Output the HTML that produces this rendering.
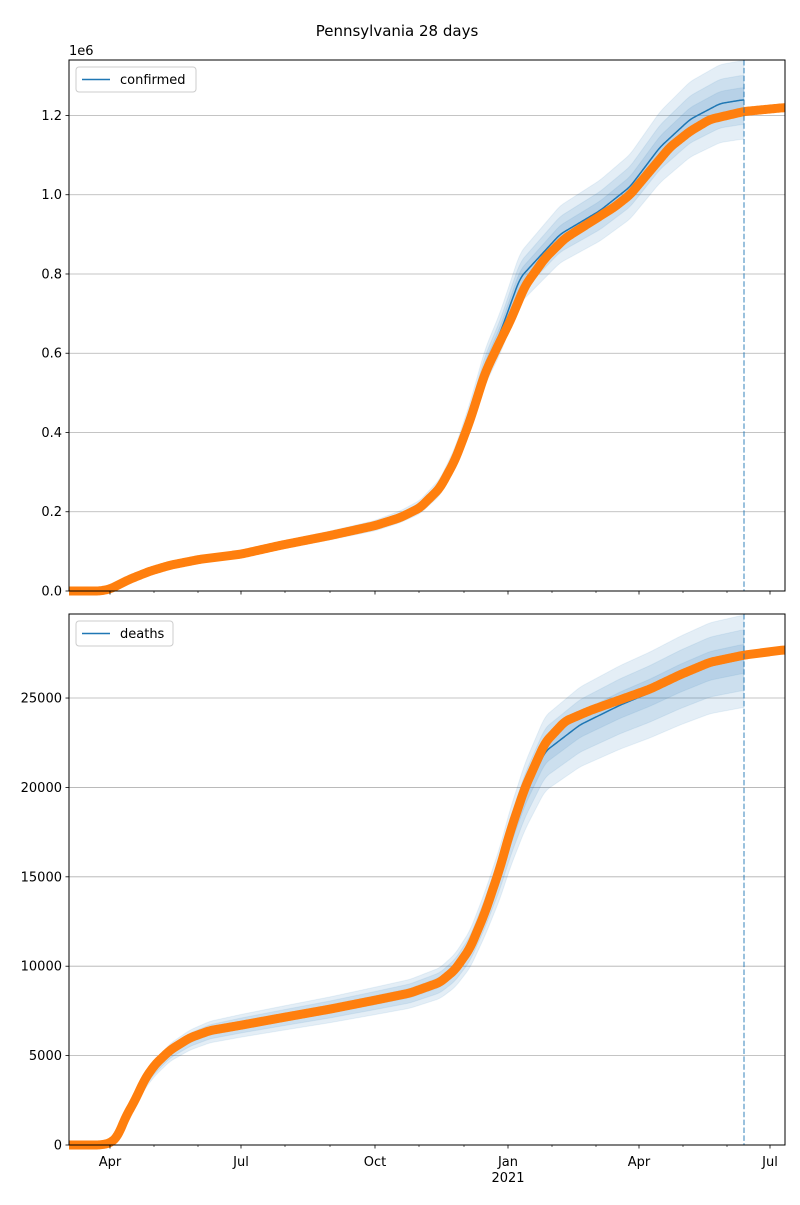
<!DOCTYPE html>
<html><head><meta charset="utf-8"><style>
body{margin:0;background:#fff}
svg text{font-family:"DejaVu Sans","Liberation Sans",sans-serif;font-size:13px;fill:#000}
</style></head><body>
<svg id="s" width="800" height="1200" xmlns="http://www.w3.org/2000/svg">
<rect width="800" height="1200" fill="#fff"/>
<text x="397" y="36" text-anchor="middle" style="font-size:15px">Pennsylvania 28 days</text>
<g id="g"></g>
</svg>
<script>
const NS="http://www.w3.org/2000/svg";const g=document.getElementById('g');
function el(t,a,txt){const e=document.createElementNS(NS,t);for(const k in a)e.setAttribute(k,a[k]);if(txt!==undefined)e.textContent=txt;g.appendChild(e);return e;}
function interp(pts,x){for(let i=1;i<pts.length;i++){if(x<=pts[i][0]){const[a,b]=pts[i-1],[c,d]=pts[i];return b+(d-b)*(x-a)/(c-a);}}return pts[pts.length-1][1];}
// smooth by moving average
function series(pts,x0,x1){let xs=[],ys=[];for(let x=x0;x<=x1;x+=1){xs.push(x);ys.push(interp(pts,x));}
 let sm=ys.map((v,i)=>{let s=0,n=0;for(let j=i-4;j<=i+4;j++){if(j>=0&&j<ys.length){s+=ys[j];n++;}}return s/n;});return [xs,sm];}
function panel(top,bot,maxv,ticks,tickfmt,orange,blue,rel,label,legw){
 const L=69,R=785;const Y=v=>bot-(bot-top)*v/maxv;
 // grid
 ticks.forEach(t=>{el('line',{x1:L,x2:R,y1:Y(t),y2:Y(t),stroke:'#b0b0b0','stroke-width':0.8});
  el('line',{x1:L-3.5,x2:L,y1:Y(t),y2:Y(t),stroke:'#000','stroke-width':0.8});
  el('text',{x:L-7,y:Y(t)+4.5,'text-anchor':'end'},tickfmt(t));});
 const [bx,by]=series(blue,69,744);
 rel.forEach(r=>{let up=bx.map((x,i)=>x+','+Y(by[i]*(1+r[0]))).join(' ');
  let dn=bx.slice().reverse().map((x,i)=>x+','+Y(by[by.length-1-i]*(1-r[1]))).join(' ');
  el('polygon',{points:up+' '+dn,fill:'#1f77b4','fill-opacity':0.12,stroke:'#1f77b4','stroke-opacity':0.08});});
 el('polyline',{points:bx.map((x,i)=>x+','+Y(by[i])).join(' '),fill:'none',stroke:'#1f77b4','stroke-width':1.5});
 const [ox,oy]=series(orange,69,785);
 el('polyline',{points:ox.map((x,i)=>x+','+Y(oy[i])).join(' '),fill:'none',stroke:'#ff7f0e','stroke-width':9,'stroke-linejoin':'round'});
 el('line',{x1:744,x2:744,y1:top,y2:bot,stroke:'#1f77b4','stroke-opacity':0.6,'stroke-width':1.5,'stroke-dasharray':'5.5,2.4'});
 // mask overflow
 el('rect',{x:0,y:top-12,width:L,height:bot-top+24,fill:'#fff'});
 el('rect',{x:R,y:top-12,width:15,height:bot-top+24,fill:'#fff'});
 ticks.forEach(t=>{el('line',{x1:L-3.5,x2:L,y1:Y(t),y2:Y(t),stroke:'#000','stroke-width':0.8});
  el('text',{x:L-7,y:Y(t)+4.5,'text-anchor':'end'},tickfmt(t));});
 el('rect',{x:L,y:top,width:R-L,height:bot-top,fill:'none',stroke:'#000','stroke-width':1});
 // x ticks
 const maj=[110,241,375,508,639,770];const minr=[154,198,285,330,419,464,552,596,683,727];
 maj.forEach(x=>el('line',{x1:x,x2:x,y1:bot,y2:bot+3.5,stroke:'#000','stroke-width':0.8}));
 minr.forEach(x=>el('line',{x1:x,x2:x,y1:bot,y2:bot+2,stroke:'#000','stroke-width':0.6}));
 // legend
 el('rect',{x:76,y:top+7,width:legw,height:25,rx:3,fill:'#fff',stroke:'#ccc','stroke-width':1});
 el('line',{x1:82,x2:110,y1:top+19.5,y2:top+19.5,stroke:'#1f77b4','stroke-width':1.5});
 el('text',{x:120,y:top+24},label);
}
const M=1e6;
panel(60,591,1.34e6,[0,0.2e6,0.4e6,0.6e6,0.8e6,1.0e6,1.2e6],t=>(t/M).toFixed(1),
 [[69,0],[100,0],[110,5e3],[130,3e4],[150,5e4],[170,6.5e4],[200,8e4],[241,9.3e4],[280,1.15e5],[330,1.4e5],[375,1.65e5],[400,1.85e5],[420,2.1e5],[440,2.6e5],[455,3.3e5],[470,4.3e5],[485,5.5e5],[500,6.3e5],[510,6.8e5],[525,7.7e5],[545,8.4e5],[565,8.9e5],[590,9.3e5],[615,9.7e5],[630,1.0e6],[650,1.06e6],[670,1.12e6],[690,1.16e6],[710,1.19e6],[744,1.21e6],[785,1.22e6]],
 [[69,0],[100,0],[110,5e3],[130,3e4],[150,5e4],[170,6.5e4],[200,8e4],[241,9.3e4],[280,1.15e5],[330,1.4e5],[375,1.65e5],[400,1.87e5],[420,2.12e5],[440,2.62e5],[455,3.35e5],[470,4.4e5],[485,5.65e5],[500,6.5e5],[520,7.9e5],[560,9.0e5],[600,9.6e5],[630,1.02e6],[660,1.12e6],[690,1.19e6],[720,1.23e6],[744,1.24e6]],
 [[0.08,0.08],[0.05,0.05],[0.025,0.025]],'confirmed',120);
el('text',{x:69,y:55},'1e6');
panel(614,1145,29700,[0,5000,10000,15000,20000,25000],t=>String(t),
 [[69,0],[100,0],[110,100],[118,500],[125,1500],[135,2500],[145,3700],[155,4500],[170,5300],[190,6000],[210,6400],[241,6700],[280,7100],[330,7600],[375,8100],[410,8500],[440,9100],[455,9800],[470,11000],[485,13000],[500,15500],[510,17500],[525,20000],[545,22500],[565,23700],[590,24300],[620,24900],[650,25500],[680,26300],[710,27000],[744,27400],[785,27700]],
 [[69,0],[100,0],[110,100],[118,500],[125,1400],[135,2400],[145,3500],[155,4300],[170,5200],[190,5900],[210,6350],[241,6700],[280,7100],[330,7600],[375,8100],[410,8500],[440,9100],[455,9800],[470,11000],[485,13000],[500,15300],[510,17200],[525,19600],[545,22000],[580,23500],[620,24600],[650,25300],[680,26100],[710,26800],[744,27200]],
 [[0.09,0.1],[0.06,0.065],[0.03,0.03]],'deaths',97);
const labs=[[110,'Apr'],[241,'Jul'],[375,'Oct'],[508,'Jan'],[639,'Apr'],[770,'Jul']];
labs.forEach(l=>el('text',{x:l[0],y:1166,'text-anchor':'middle'},l[1]));
el('text',{x:508,y:1182,'text-anchor':'middle'},'2021');
</script>
</body></html>
